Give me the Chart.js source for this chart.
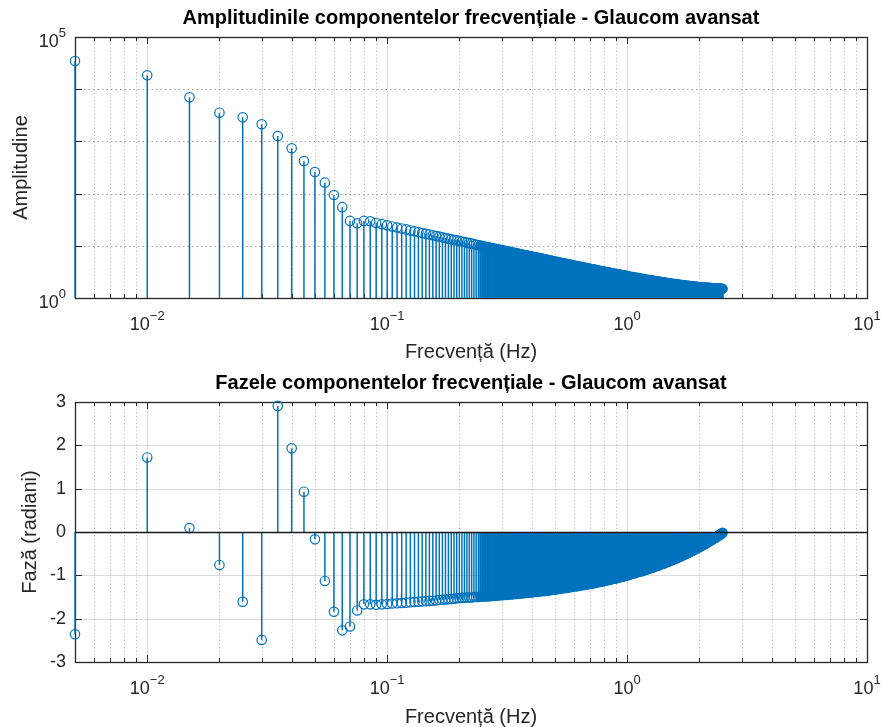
<!DOCTYPE html>
<html>
<head>
<meta charset="utf-8">
<script src="https://cdn.jsdelivr.net/npm/chart.js@4.4.1/dist/chart.umd.min.js"></script>
<style>
  html, body { margin: 0; padding: 0; background: #fff; overflow: hidden; }
  #top { position: absolute; left: 0; top: 0; }
  #bottom { position: absolute; left: 0; top: 365px; }
</style>
</head>
<body>
<canvas id="top" width="881" height="365"></canvas>
<canvas id="bottom" width="881" height="370"></canvas>
<script>
// frequencies (Hz)
var freqs = [
  0.005,0.01,0.015,0.02,0.025,0.03,0.035,0.04,0.045,0.05,0.055,0.06,0.065,0.07,0.075,0.08,0.085,0.09,0.095,0.1,
  0.105,0.11,0.115,0.12,0.125,0.13,0.135,0.14,0.145,0.15,0.155,0.16,0.165,0.17,0.175,0.18,0.185,0.19,0.195,0.2,
  0.205,0.21,0.215,0.22,0.225,0.23,0.235,0.24,0.245,0.25,0.255,0.26,0.265,0.27,0.275,0.28,0.285,0.29,0.295,0.3,
  0.305,0.31,0.315,0.32,0.325,0.33,0.335,0.34,0.345,0.35,0.355,0.36,0.365,0.37,0.375,0.38,0.385,0.39,0.395,0.4,
  0.405,0.41,0.415,0.42,0.425,0.43,0.435,0.44,0.445,0.45,0.455,0.46,0.465,0.47,0.475,0.48,0.485,0.49,0.495,0.5,
  0.51,0.52,0.53,0.54,0.55,0.56,0.57,0.58,0.59,0.6,0.61,0.62,0.63,0.64,0.65,0.66,0.67,0.68,0.69,0.7,
  0.71,0.72,0.73,0.74,0.75,0.76,0.77,0.78,0.79,0.8,0.81,0.82,0.83,0.84,0.85,0.86,0.87,0.88,0.89,0.9,
  0.91,0.92,0.93,0.94,0.95,0.96,0.97,0.98,0.99,1,
  1.02,1.04,1.06,1.08,1.1,1.12,1.14,1.16,1.18,1.2,1.22,1.24,1.26,1.28,1.3,1.32,1.34,1.36,1.38,1.4,
  1.42,1.44,1.46,1.48,1.5,1.52,1.54,1.56,1.58,1.6,1.62,1.64,1.66,1.68,1.7,1.72,1.74,1.76,1.78,1.8,
  1.82,1.84,1.86,1.88,1.9,1.92,1.94,1.96,1.98,2,2.02,2.04,2.06,2.08,2.1,2.12,2.14,2.16,2.18,2.2,
  2.22,2.24,2.26,2.28,2.3,2.32,2.34,2.36,2.38,2.4,2.42,2.44,2.46,2.48,2.5
];

var amplitudes = [
  34700,18450,7000,3550,2890,2130,1270,740,420,259,162,94,55,30,27,30,29.5,27.4,26,24.7,
  23.5,22.4,21.5,20.6,19.7,19,18.3,17.6,17,16.5,15.9,15.4,15,14.5,14.1,13.7,13.3,13,12.7,12.4,
  12.1,11.8,11.5,11.25,11,10.8,10.5,10.3,10.1,9.9,9.7,9.5,9.35,9.2,9,8.85,8.7,8.55,8.4,8.27,
  8.13,8,7.88,7.76,7.64,7.53,7.41,7.31,7.2,7.1,7,6.91,6.82,6.73,6.64,6.55,6.47,6.39,6.31,6.23,
  6.16,6.08,6.01,5.94,5.87,5.81,5.74,5.68,5.61,5.55,5.49,5.43,5.38,5.32,5.26,5.21,5.16,5.1,5.05,5.01,
  4.92,4.83,4.74,4.66,4.58,4.5,4.42,4.35,4.28,4.21,4.14,4.08,4.02,3.96,3.9,3.85,3.79,3.74,3.69,3.64,
  3.59,3.55,3.5,3.46,3.41,3.37,3.33,3.29,3.25,3.22,3.18,3.15,3.11,3.08,3.05,3.01,2.98,2.95,2.92,2.89,
  2.87,2.84,2.81,2.78,2.76,2.73,2.71,2.68,2.66,2.64,
  2.59,2.55,2.51,2.47,2.43,2.4,2.36,2.33,2.3,2.26,2.24,2.21,2.18,2.15,2.13,2.1,2.08,2.06,2.03,2.01,
  1.99,1.97,1.95,1.93,1.92,1.9,1.88,1.87,1.85,1.84,1.82,1.81,1.79,1.78,1.77,1.76,1.75,1.73,1.72,1.71,
  1.7,1.69,1.68,1.67,1.66,1.65,1.64,1.63,1.62,1.61,1.6,1.6,1.59,1.59,1.58,1.58,1.57,1.57,1.56,1.56,
  1.55,1.55,1.54,1.54,1.53,1.53,1.53,1.52,1.52,1.52,1.51,1.51,1.51,1.5,1.5
];

var phases = [
  -2.36,1.72,0.09,-0.76,-1.61,-2.49,2.91,1.93,0.93,-0.17,-1.13,-1.84,-2.27,-2.18,-1.81,-1.67,-1.67,-1.68,-1.67,-1.66,
  -1.65,-1.645,-1.64,-1.63,-1.62,-1.615,-1.61,-1.6,-1.595,-1.59,-1.585,-1.58,-1.57,-1.565,-1.56,-1.55,-1.545,-1.54,-1.53,-1.525,
  -1.52,-1.52,-1.51,-1.51,-1.51,-1.5,-1.5,-1.5,-1.49,-1.49,-1.49,-1.48,-1.48,-1.48,-1.47,-1.47,-1.47,-1.46,-1.46,-1.46,
  -1.45,-1.45,-1.45,-1.44,-1.44,-1.44,-1.43,-1.43,-1.43,-1.42,-1.42,-1.42,-1.41,-1.41,-1.41,-1.4,-1.4,-1.4,-1.39,-1.39,
  -1.39,-1.38,-1.38,-1.38,-1.37,-1.37,-1.37,-1.36,-1.36,-1.36,-1.36,-1.35,-1.35,-1.35,-1.34,-1.34,-1.34,-1.33,-1.33,-1.33,
  -1.32,-1.31,-1.31,-1.3,-1.29,-1.29,-1.28,-1.27,-1.27,-1.26,-1.25,-1.25,-1.24,-1.23,-1.23,-1.22,-1.22,-1.21,-1.2,-1.2,
  -1.19,-1.18,-1.18,-1.17,-1.16,-1.16,-1.15,-1.14,-1.14,-1.13,-1.12,-1.12,-1.11,-1.1,-1.1,-1.09,-1.08,-1.08,-1.07,-1.07,
  -1.06,-1.05,-1.05,-1.04,-1.03,-1.03,-1.02,-1.01,-1.01,-1,
  -0.99,-0.97,-0.96,-0.95,-0.93,-0.92,-0.91,-0.9,-0.88,-0.87,-0.86,-0.84,-0.83,-0.82,-0.8,-0.79,-0.78,-0.77,-0.75,-0.74,
  -0.73,-0.71,-0.7,-0.69,-0.67,-0.66,-0.65,-0.63,-0.62,-0.61,-0.6,-0.58,-0.57,-0.56,-0.54,-0.53,-0.52,-0.5,-0.49,-0.48,
  -0.47,-0.45,-0.44,-0.43,-0.41,-0.4,-0.39,-0.37,-0.36,-0.35,-0.33,-0.32,-0.31,-0.3,-0.28,-0.27,-0.26,-0.24,-0.23,-0.22,
  -0.2,-0.19,-0.18,-0.17,-0.15,-0.14,-0.13,-0.11,-0.1,-0.09,-0.07,-0.06,-0.05,-0.04,-0.02
];

// axis ticks ("base^exponent" labels)
var xTickValues = [0.01, 0.1, 1, 10];
var xTickLabels = ['10^−2', '10^−1', '10^0', '10^1'];
var ampTickValues = [1, 10, 100, 1000, 10000, 100000];
var ampTickLabels = ['10^0', '', '', '', '', '10^5'];
var phaseTickValues = [-3, -2, -1, 0, 1, 2, 3];

var FONT = "'Liberation Sans', Arial, Helvetica, sans-serif";
var BLUE = '#0072BD';
var AXIS = '#262626';

function sameVal(a, b) { return Math.abs(a - b) <= Math.abs(b) * 1e-6 + 1e-9; }
function isDecade(v) { var e = Math.log10(v); return Math.abs(e - Math.round(e)) < 1e-6; }

// minor + major ticks of the log x axis (0.005 .. 10)
function xGridTicks(scale) {
  var out = [];
  [0.001, 0.01, 0.1, 1].forEach(function (dec) {
    for (var m = 1; m <= 9; m++) {
      var v = +(dec * m).toPrecision(6);
      if (v >= scale.min - 1e-12 && v <= scale.max) out.push({ value: v });
    }
  });
  out.push({ value: 10 });
  return out;
}

// "10" with a raised exponent
function drawPower(ctx, label, x, y, align) {
  var parts = label.split('^');
  ctx.font = '18px ' + FONT;
  var wb = ctx.measureText(parts[0]).width;
  ctx.font = '13px ' + FONT;
  var we = ctx.measureText(parts[1]).width;
  var left = align === 'center' ? x - (wb + we) / 2 : x - (wb + we);
  ctx.textAlign = 'left';
  ctx.textBaseline = 'alphabetic';
  ctx.font = '18px ' + FONT;
  ctx.fillText(parts[0], left, y);
  ctx.font = '13px ' + FONT;
  ctx.fillText(parts[1], left + wb, y - 10);
}

// grid, inward ticks, box and power-of-ten labels like MATLAB axes
var axesPlugin = {
  id: 'mAxes',
  beforeDatasetsDraw: function (chart, args, o) {
    var ctx = chart.ctx, a = chart.chartArea;
    var xs = chart.scales.x, ys = chart.scales.y;
    ctx.save();
    ctx.lineWidth = 1;
    xs.ticks.forEach(function (t) {
      var px = Math.round(xs.getPixelForValue(t.value)) + 0.5;
      if (px <= a.left + 1 || px >= a.right - 1) return;
      ctx.beginPath();
      if (isDecade(t.value)) { ctx.setLineDash([]); ctx.strokeStyle = 'rgba(0,0,0,0.14)'; }
      else { ctx.setLineDash([1, 2.5]); ctx.strokeStyle = 'rgba(0,0,0,0.3)'; }
      ctx.moveTo(px, a.top); ctx.lineTo(px, a.bottom); ctx.stroke();
    });
    ys.ticks.forEach(function (t) {
      var py = Math.round(ys.getPixelForValue(t.value)) + 0.5;
      if (py <= a.top + 1 || py >= a.bottom - 1) return;
      ctx.beginPath();
      ctx.setLineDash(o.yDash);
      ctx.strokeStyle = o.yColor;
      ctx.moveTo(a.left, py); ctx.lineTo(a.right, py); ctx.stroke();
    });
    ctx.setLineDash([]);
    ctx.strokeStyle = AXIS;
    ctx.beginPath();
    xs.ticks.forEach(function (t) {
      var px = Math.round(xs.getPixelForValue(t.value)) + 0.5;
      var len = isDecade(t.value) ? 7 : 4;
      ctx.moveTo(px, a.bottom); ctx.lineTo(px, a.bottom - len);
      ctx.moveTo(px, a.top); ctx.lineTo(px, a.top + len);
    });
    ys.ticks.forEach(function (t) {
      var py = Math.round(ys.getPixelForValue(t.value)) + 0.5;
      ctx.moveTo(a.left, py); ctx.lineTo(a.left + 7, py);
      ctx.moveTo(a.right, py); ctx.lineTo(a.right - 7, py);
    });
    ctx.stroke();
    ctx.lineWidth = 1.3;
    ctx.strokeRect(Math.round(a.left) + 0.5, Math.round(a.top) + 0.5,
      Math.round(a.right - a.left), Math.round(a.bottom - a.top));
    ctx.restore();
  },
  afterDraw: function (chart, args, o) {
    var ctx = chart.ctx, a = chart.chartArea;
    var xs = chart.scales.x, ys = chart.scales.y;
    ctx.save();
    ctx.fillStyle = AXIS;
    xTickValues.forEach(function (v, i) {
      drawPower(ctx, xTickLabels[i], xs.getPixelForValue(v), a.bottom + 32, 'center');
    });
    if (o.yPowers) {
      ampTickValues.forEach(function (v, i) {
        if (ampTickLabels[i]) drawPower(ctx, ampTickLabels[i], a.left - 9, ys.getPixelForValue(v) + 9.5, 'right');
      });
    }
    ctx.restore();
  }
};

// stem lines from baseline to each point
var stemPlugin = {
  id: 'stems',
  beforeDatasetsDraw: function (chart, args, o) {
    var ctx = chart.ctx;
    var base = chart.scales.y.getPixelForValue(o.base);
    var pts = chart.getDatasetMeta(0).data;
    ctx.save();
    ctx.strokeStyle = BLUE;
    pts.forEach(function (p, i) {
      var gap = i > 0 ? p.x - pts[i - 1].x : 99;
      ctx.lineWidth = gap < 2.17 ? 2.6 : 1.5;
      ctx.beginPath();
      ctx.moveTo(p.x, base); ctx.lineTo(p.x, p.y);
      ctx.stroke();
    });
    ctx.restore();
  },
  afterDatasetsDraw: function (chart, args, o) {
    if (!o.baseline) return;
    var ctx = chart.ctx, a = chart.chartArea;
    var py = Math.round(chart.scales.y.getPixelForValue(o.base)) + 0.5;
    ctx.save();
    ctx.strokeStyle = '#1a1a1a';
    ctx.lineWidth = 1.3;
    ctx.beginPath();
    ctx.moveTo(a.left, py); ctx.lineTo(a.right, py);
    ctx.stroke();
    ctx.restore();
  }
};

function xScale(titleBottom, scaleHeight) {
  return {
    type: 'logarithmic',
    min: 0.005,
    max: 10,
    grid: { display: false, drawTicks: false },
    border: { display: false },
    afterBuildTicks: function (s) { s.ticks = xGridTicks(s); },
    afterFit: function (s) { s.height = scaleHeight; },
    ticks: { autoSkip: false, maxRotation: 0, minRotation: 0, callback: function () { return ''; } },
    title: {
      display: true, text: 'Frecvență (Hz)', color: AXIS,
      font: { family: FONT, size: 20 }, padding: { top: 0, bottom: titleBottom }
    }
  };
}

function makePoints(ys) {
  return freqs.map(function (f, i) { return { x: f, y: ys[i] }; });
}

function baseOptions(title) {
  return {
    responsive: false,
    animation: false,
    devicePixelRatio: 1,
    events: [],
    layout: { padding: { left: 0, right: 14, top: 0, bottom: 0 } },
    plugins: {
      legend: { display: false },
      tooltip: { enabled: false },
      title: {
        display: true, text: title, fullSize: false, color: '#000',
        font: { family: FONT, size: 20, weight: 'bold' }, padding: { top: 6, bottom: 7 }
      }
    }
  };
}

// open circles; where markers crowd together they merge into a solid band
function markerFill(c) {
  var i = c.dataIndex;
  if (i < 1) return 'rgba(0,0,0,0)';
  var s = c.chart.scales.x;
  var gap = s.getPixelForValue(freqs[i]) - s.getPixelForValue(freqs[i - 1]);
  return gap < 2.17 ? BLUE : 'rgba(0,0,0,0)';
}

function dataset(ys) {
  return {
    data: makePoints(ys),
    clip: false,
    showLine: false,
    pointStyle: 'circle',
    pointRadius: 4.7,
    pointBorderWidth: 1.2,
    pointBorderColor: BLUE,
    pointBackgroundColor: markerFill
  };
}

// amplitude chart
var opt1 = baseOptions('Amplitudinile componentelor frecvențiale - Glaucom avansat');
opt1.plugins.stems = { base: 1, baseline: false };
opt1.plugins.mAxes = { yDash: [1.5, 3], yColor: 'rgba(0,0,0,0.38)', yPowers: true };
opt1.scales = {
  x: xScale(1, 67),
  y: {
    type: 'logarithmic', min: 1, max: 100000,
    grid: { display: false, drawTicks: false },
    border: { display: false },
    afterBuildTicks: function (s) { s.ticks = ampTickValues.map(function (v) { return { value: v }; }); },
    afterFit: function (s) { s.width = 75; },
    ticks: { autoSkip: false, callback: function () { return ''; } },
    title: {
      display: true, text: 'Amplitudine', color: AXIS,
      font: { family: FONT, size: 20 }, padding: { top: 9, bottom: 0 }
    }
  }
};

new Chart(document.getElementById('top'), {
  type: 'scatter',
  data: { datasets: [dataset(amplitudes)] },
  options: opt1,
  plugins: [axesPlugin, stemPlugin]
});

// phase chart
var opt2 = baseOptions('Fazele componentelor frecvențiale - Glaucom avansat');
opt2.plugins.stems = { base: 0, baseline: true };
opt2.plugins.mAxes = { yDash: [], yColor: 'rgba(0,0,0,0.14)', yPowers: false };
opt2.scales = {
  x: xScale(6, 73),
  y: {
    type: 'linear', min: -3, max: 3,
    grid: { display: false, drawTicks: false },
    border: { display: false },
    afterBuildTicks: function (s) { s.ticks = phaseTickValues.map(function (v) { return { value: v }; }); },
    afterFit: function (s) { s.width = 75; },
    ticks: {
      autoSkip: false, padding: 9, color: AXIS, font: { family: FONT, size: 18 },
      callback: function (v) { return String(v); }
    },
    title: {
      display: true, text: 'Fază (radiani)', color: AXIS,
      font: { family: FONT, size: 20 }, padding: { top: 18, bottom: 0 }
    }
  }
};

new Chart(document.getElementById('bottom'), {
  type: 'scatter',
  data: { datasets: [dataset(phases)] },
  options: opt2,
  plugins: [axesPlugin, stemPlugin]
});
</script>
</body>
</html>
